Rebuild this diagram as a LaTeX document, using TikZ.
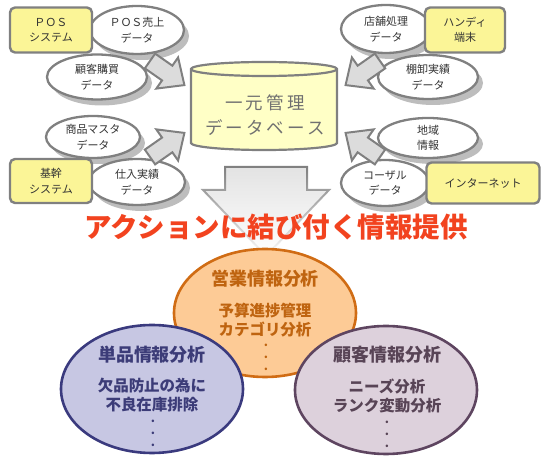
\documentclass[tikz,border=0pt]{standalone}
\usepackage{fontspec}
\setmainfont{Noto Sans CJK JP}
\newfontfamily\jpls[LetterSpace=18]{Noto Sans CJK JP}
\usetikzlibrary{shapes.geometric,shadows,fadings}
\definecolor{linegray}{HTML}{808080}
\definecolor{shadowgray}{HTML}{BDBDBD}
\definecolor{boxyellow}{HTML}{FBF597}
\definecolor{cylyellow}{HTML}{FFFFC6}
\definecolor{arrowgray}{HTML}{DCDCDC}
\definecolor{smalltxt}{HTML}{333333}
\definecolor{dbtxt}{HTML}{707070}
\definecolor{actred}{HTML}{F2431F}
\definecolor{orfill}{HTML}{FDCB96}
\definecolor{orline}{HTML}{D06C14}
\definecolor{ortxt}{HTML}{BF6410}
\definecolor{blfill}{HTML}{C7C7E3}
\definecolor{blline}{HTML}{3A3A7E}
\definecolor{bltxt}{HTML}{3C3C78}
\definecolor{mvfill}{HTML}{DDD1DC}
\definecolor{mvline}{HTML}{5E4560}
\definecolor{mvtxt}{HTML}{584456}
\begin{document}
\begin{tikzpicture}[x=1pt,y=-1pt,
  dataell/.style={ellipse, draw=linegray, line width=2.3pt, fill=white, inner sep=0pt,
    text=smalltxt, align=center, font=\fontsize{11}{15.5}\selectfont,
    drop shadow={shadow xshift=5pt, shadow yshift=-6pt, fill=shadowgray, opacity=1}},
  sysbox/.style={rectangle, rounded corners=5pt, draw=linegray, line width=2.4pt,
    fill=boxyellow, inner sep=0pt, text=smalltxt, align=center,
    font=\fontsize{11}{15.5}\selectfont},
  blockarrow/.style={fill=arrowgray, draw=linegray, line width=2pt, line join=miter},
  bigell/.style={ellipse, line width=2.6pt, inner sep=0pt, minimum width=182pt, minimum height=128pt},
  titletxt/.style={font=\fontsize{18}{22}\bfseries, inner sep=0pt},
  subtxt/.style={font=\fontsize{15.5}{18.5}\bfseries, align=center, inner sep=0pt},
  dottxt/.style={font=\fontsize{12}{12}\bfseries, align=center, inner sep=0pt, anchor=north}
]
\useasboundingbox (0,0) rectangle (550,462);

% ---- left side ellipses and boxes
\node[dataell, minimum width=94pt, minimum height=48pt] (posdata) at (137,30) {ＰＯＳ売上\\データ};
\node[dataell, minimum width=100pt, minimum height=45pt] (kokyaku) at (97,77) {顧客購買\\データ};
\node[sysbox, minimum width=82pt, minimum height=45pt] (possys) at (51,30) {ＰＯＳ\\システム};
\node[dataell, minimum width=94pt, minimum height=42pt] (shohin) at (93,137) {商品マスタ\\データ};
\node[dataell, minimum width=96pt, minimum height=46pt] (shiire) at (137,182) {仕入実績\\データ};
\node[sysbox, minimum width=82pt, minimum height=44pt] (kikan) at (51,181) {基幹\\システム};

% ---- right side ellipses and boxes
\node[dataell, minimum width=90pt, minimum height=48pt] (tenpo) at (386,29) {店舗処理\\データ};
\node[sysbox, minimum width=80pt, minimum height=45pt] (handy) at (465,30) {ハンディ\\端末};
\node[dataell, minimum width=100pt, minimum height=44pt] (tana) at (428,77) {棚卸実績\\データ};
\node[dataell, minimum width=100pt, minimum height=40pt] (chiiki) at (428,138) {地域\\情報};
\node[dataell, minimum width=88pt, minimum height=46pt] (causal) at (385,183) {コーザル\\データ};
\node[sysbox, minimum width=113pt, minimum height=41pt] (inet) at (483,183) {インターネット};

% ---- block arrows toward the database
\draw[blockarrow, shift={(150,61)}, rotate=-35] (0,-9) -- (21,-9) -- (21,-19) -- (42,0) -- (21,19) -- (21,9) -- (0,9) -- cycle;
\draw[blockarrow, shift={(150,157)}, rotate=35] (0,-9) -- (21,-9) -- (21,-19) -- (42,0) -- (21,19) -- (21,9) -- (0,9) -- cycle;
\draw[blockarrow, shift={(380,61)}, rotate=215] (0,-9) -- (21,-9) -- (21,-19) -- (42,0) -- (21,19) -- (21,9) -- (0,9) -- cycle;
\draw[blockarrow, shift={(380,157)}, rotate=145] (0,-9) -- (21,-9) -- (21,-19) -- (42,0) -- (21,19) -- (21,9) -- (0,9) -- cycle;

% ---- database cylinder
\path[fill=cylyellow, draw=linegray, line width=2.2pt]
  (191,69) -- (191,143) arc[start angle=180, end angle=360, x radius=73pt, y radius=7pt]
  -- (337,69) arc[start angle=0, end angle=180, x radius=73pt, y radius=7pt] -- cycle;
\draw[linegray, line width=2.2pt] (191,69) arc[start angle=180, end angle=360, x radius=73pt, y radius=7pt];
\node[text=dbtxt, align=center, font=\jpls\fontsize{17.5}{25}\selectfont, inner sep=0pt] (db) at (265,115) {一元管理\\データベース};

% ---- big down arrow
\shade[top color=black!11, middle color=black!8, bottom color=white]
  (225,167) -- (307,167) -- (307,190) -- (329,190) -- (266,256) -- (203,190) -- (225,190) -- cycle;
\draw[linegray, line width=2pt, path fading=south]
  (225,167) -- (307,167) -- (307,190) -- (329,190) -- (266,256) -- (203,190) -- (225,190) -- cycle;

% ---- headline
\node[text=actred, font=\fontsize{27.5}{31}\bfseries, inner sep=0pt] (action) at (276,227) {アクションに結び付く情報提供};

% ---- analysis ellipses
\node[bigell, fill=orfill, draw=orline] (sales) at (265,313) {};
\node[titletxt, text=ortxt] (salest) at (265,279) {営業情報分析};
\node[subtxt, text=ortxt] (saless) at (265,320) {予算進捗管理\\カテゴリ分析};
\node[dottxt, text=ortxt] (salesd) at (266,344) {.\\.\\.};

\node[bigell, fill=blfill, draw=blline] (item) at (152,389) {};
\node[titletxt, text=bltxt] (itemt) at (152,355) {単品情報分析};
\node[subtxt, text=bltxt] (items) at (152,395) {欠品防止の為に\\不良在庫排除};
\node[dottxt, text=bltxt] (itemd) at (153,420) {.\\.\\.};

\node[bigell, fill=mvfill, draw=mvline] (cust) at (386,390) {};
\node[titletxt, text=mvtxt] (custt) at (387,355) {顧客情報分析};
\node[subtxt, text=mvtxt] (custs) at (387,396) {ニーズ分析\\ランク変動分析};
\node[dottxt, text=mvtxt] (custd) at (387,421) {.\\.\\.};
\end{tikzpicture}
\end{document}
